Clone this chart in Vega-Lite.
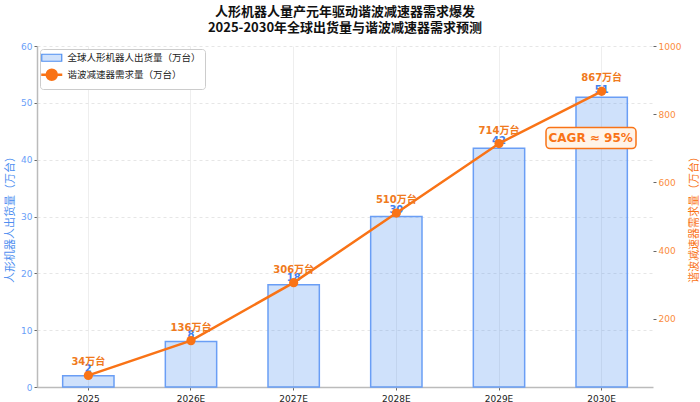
{
  "$schema": "https://vega.github.io/schema/vega-lite/v6.json",
  "autosize": {"type": "none"},
  "padding": {"left": 37, "top": 46, "right": 47, "bottom": 15},
  "width": 616,
  "height": 341,
  "background": "white",
  "config": {
    "font": "DejaVu Sans, Noto Sans CJK SC",
    "view": {"stroke": null},
    "axis": {"labelFont": "DejaVu Sans, Noto Sans CJK SC", "titleFont": "Noto Sans CJK SC"}
  },
  "title": {
    "text": ["人形机器人量产元年驱动谐波减速器需求爆发", "2025-2030年全球出货量与谐波减速器需求预测"],
    "anchor": "middle",
    "fontSize": 13,
    "fontWeight": "bold",
    "color": "#111",
    "lineHeight": 16,
    "offset": 7,
    "font": "Noto Sans CJK SC"
  },
  "encoding": {
    "x": {
      "field": "year",
      "type": "ordinal",
      "sort": null,
      "scale": {"paddingInner": 0.5, "paddingOuter": 0.25},
      "axis": {
        "title": null,
        "labelAngle": 0,
        "labelFontSize": 9,
        "labelColor": "#222",
        "bandPosition": 0.5,
        "grid": true,
        "gridColor": "#eeeeee",
        "domainColor": "#bbbbbb",
        "domainWidth": 1.5,
        "tickColor": "#666",
        "tickSize": 3,
        "labelPadding": 4
      }
    }
  },
  "layer": [
    {
      "data": {"values": [
        {"year": "2025", "ship": 2},
        {"year": "2026E", "ship": 8},
        {"year": "2027E", "ship": 18},
        {"year": "2028E", "ship": 30},
        {"year": "2029E", "ship": 42},
        {"year": "2030E", "ship": 51}
      ]},
      "encoding": {
        "y": {
          "field": "ship",
          "type": "quantitative",
          "scale": {"domain": [0, 60], "nice": false},
          "axis": {
            "title": "人形机器人出货量（万台）",
            "titleColor": "#4f8ff0",
            "titleFontSize": 11,
            "titleFontWeight": "normal",
            "titlePadding": 5,
            "values": [0, 10, 20, 30, 40, 50, 60],
            "labelColor": "#6aa0f8",
            "labelFontSize": 9,
            "gridDash": [3, 3],
            "gridColor": "#e6e6e6",
            "domainColor": "#bbbbbb",
            "domainWidth": 1.5,
            "tickColor": "#666",
            "tickSize": 3
          }
        }
      },
      "layer": [
        {
          "mark": {"type": "bar", "fillOpacity": 0.27, "stroke": "#6a9ef5", "strokeWidth": 1.5},
          "encoding": {
            "color": {
              "datum": "全球人形机器人出货量（万台）",
              "scale": {
                "domain": ["全球人形机器人出货量（万台）", "谐波减速器需求量（万台）"],
                "range": ["#4f8ff0", "#f97316"]
              },
              "legend": {
                "title": null,
                "orient": "top-left",
                "offset": 3,
                "padding": 4,
                "fillColor": "white",
                "strokeColor": "#cccccc",
                "cornerRadius": 3,
                "labelFontSize": 9.5,
                "labelColor": "#222",
                "labelFont": "Noto Sans CJK SC",
                "symbolOffset": 3,
                "labelOffset": 11,
                "rowPadding": 0,
                "symbolSize": 100,
                "encode": {
                  "symbols": {
                    "update": {
                      "shape": {"signal": "datum.index === 0 ? 'M-2,-0.7L2,-0.7L2,0.7L-2,0.7Z' : 'M-2.1,0L2.1,0M1,0A1,1 0 1 1 -1,0A1,1 0 1 1 1,0Z'"},
                      "fillOpacity": {"signal": "datum.index === 0 ? 0.27 : 1"},
                      "strokeWidth": {"signal": "datum.index === 0 ? 1.2 : 2.5"},
                      "opacity": {"value": 1}
                    }
                  }
                }
              }
            }
          }
        },
        {
          "mark": {"type": "text", "baseline": "bottom", "dy": -2, "fontSize": 10, "fontWeight": "bold", "color": "#3f80ee"},
          "encoding": {"text": {"field": "ship", "type": "quantitative"}}
        }
      ]
    },
    {
      "data": {"values": [
        {"year": "2025", "demand": 34, "label": "34万台"},
        {"year": "2026E", "demand": 136, "label": "136万台"},
        {"year": "2027E", "demand": 306, "label": "306万台"},
        {"year": "2028E", "demand": 510, "label": "510万台"},
        {"year": "2029E", "demand": 714, "label": "714万台"},
        {"year": "2030E", "demand": 867, "label": "867万台"}
      ]},
      "encoding": {
        "y": {
          "field": "demand",
          "type": "quantitative",
          "scale": {"domain": [0, 1000], "nice": false},
          "axis": {
            "orient": "right",
            "title": "谐波减速器需求量（万台）",
            "titleColor": "#f97316",
            "titleFontSize": 11,
            "titleFontWeight": "normal",
            "titleAngle": 270,
            "titlePadding": 19,
            "values": [200, 400, 600, 800, 1000],
            "format": "d",
            "labelColor": "#fb8c3c",
            "labelFontSize": 9,
            "gridColor": "#eeeeee",
            "domain": false,
            "tickColor": "#666",
            "tickSize": 3
          }
        }
      },
      "layer": [
        {
          "mark": {"type": "line", "strokeWidth": 2.5},
          "encoding": {
            "color": {
              "datum": "谐波减速器需求量（万台）",
              "legend": {
                "title": null,
                "orient": "top-left",
                "offset": 3,
                "padding": 4,
                "fillColor": "white",
                "strokeColor": "#cccccc",
                "cornerRadius": 3,
                "labelFontSize": 9.5,
                "labelColor": "#222",
                "labelFont": "Noto Sans CJK SC",
                "symbolOffset": 3,
                "labelOffset": 11,
                "rowPadding": 0,
                "symbolSize": 100,
                "encode": {
                  "symbols": {
                    "update": {
                      "shape": {"signal": "datum.index === 0 ? 'M-2,-0.7L2,-0.7L2,0.7L-2,0.7Z' : 'M-2.1,0L2.1,0M1,0A1,1 0 1 1 -1,0A1,1 0 1 1 1,0Z'"},
                      "fillOpacity": {"signal": "datum.index === 0 ? 0.27 : 1"},
                      "strokeWidth": {"signal": "datum.index === 0 ? 1.2 : 2.5"},
                      "opacity": {"value": 1}
                    }
                  }
                }
              }
            }
          }
        },
        {
          "mark": {"type": "circle", "size": 85, "opacity": 1, "color": "#f97316"}
        },
        {
          "mark": {"type": "text", "baseline": "bottom", "dy": -8, "fontSize": 10, "fontWeight": "bold", "color": "#f07a1d"},
          "encoding": {"text": {"field": "label"}}
        },
        {
          "data": {"values": [{"year": "2030E", "demand": 730, "label": "CAGR ≈ 95%"}]},
          "layer": [
            {
              "mark": {
                "type": "point",
                "filled": true,
                "opacity": 1,
                "fill": "#fff4e8",
                "stroke": "#f97316",
                "strokeWidth": 1.5,
                "size": 8100,
                "shape": "M-0.91,-0.233L0.91,-0.233A0.09,0.09 0 0 1 1,-0.143L1,0.143A0.09,0.09 0 0 1 0.91,0.233L-0.91,0.233A0.09,0.09 0 0 1 -1,0.143L-1,-0.143A0.09,0.09 0 0 1 -0.91,-0.233Z"
              },
              "encoding": {"xOffset": {"value": 15}}
            },
            {
              "mark": {"type": "text", "dx": -11, "baseline": "middle", "fontSize": 12, "fontWeight": "bold", "color": "#f97316"},
              "encoding": {"text": {"field": "label"}}
            }
          ]
        }
      ]
    }
  ],
  "resolve": {"scale": {"y": "independent"}}
}
